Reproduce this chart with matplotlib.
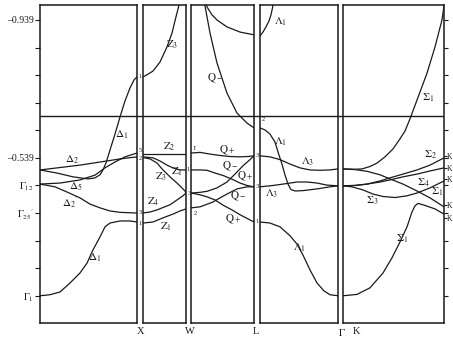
import matplotlib.pyplot as plt

plt.rcParams['font.family'] = ['Liberation Serif', 'DejaVu Serif']
plt.rcParams['mathtext.fontset'] = 'stix'

ink = '#1a1a1a'

# energy axis (values as printed, growing downward), k = fraction of each panel
e_fermi = -0.661
tick_E = [-0.939, -0.859, -0.779, -0.699, -0.619, -0.539, -0.459, -0.379, -0.299, -0.219, -0.139]
tick_labels = ['\u20130.939', '', '', '', '', '\u20130.539',
               r'$\Gamma_{12}$', r"$\Gamma_{25}{}'$", '', '', r'$\Gamma_1$']
k_end_E = [-0.545, -0.510, -0.478, -0.402, -0.365]

# ---- Gamma - X (Delta)
gx_d1a_k = [0, .103, .206, .309, .412, .485, .546, .619, .670, .722, .825, .928, 1]
gx_d1a_E = [-0.139, -0.142, -0.150, -0.176, -0.205, -0.234, -0.272, -0.310, -0.339, -0.350, -0.356, -0.356, -0.353]
gx_d2_k = [0, .206, .412, .619, .825, 1]
gx_d2_E = [-0.504, -0.511, -0.518, -0.527, -0.536, -0.542]
gx_d1b_k = [0, .175, .340, .495, .567, .619, .649, .680, .722, .773, .825, .876, .928, .969, 1]
gx_d1b_E = [-0.504, -0.495, -0.484, -0.478, -0.481, -0.490, -0.504, -0.524, -0.562, -0.608, -0.658, -0.704, -0.742, -0.765, -0.774]
gx_d5_k = [0, .206, .412, .567, .670, .773, .876, 1]
gx_d5_E = [-0.463, -0.466, -0.475, -0.489, -0.510, -0.527, -0.542, -0.553]
gx_d2p_k = [0, .155, .278, .412, .515, .619, .722, .825, 1]
gx_d2p_E = [-0.463, -0.455, -0.440, -0.423, -0.405, -0.394, -0.385, -0.381, -0.379]

# ---- X - W (Z)
xw_z3a_k = [0, .093, .233, .395, .558, .674, .767, .826, .860]
xw_z3a_E = [-0.774, -0.780, -0.791, -0.817, -0.861, -0.901, -0.948, -0.977, -0.994]
xw_z2_k = [0, .5, 1]
xw_z2_E = [-0.550, -0.550, -0.550]
xw_z1a_k = [0, .233, .395, .558, .698, .860, 1]
xw_z1a_E = [-0.542, -0.539, -0.530, -0.518, -0.510, -0.504, -0.504]
xw_z3b_k = [0, .163, .326, .465, .628, .791, .977, 1]
xw_z3b_E = [-0.540, -0.536, -0.524, -0.504, -0.484, -0.466, -0.443, -0.437]
xw_z4_k = [0, .163, .326, .465, .628, .791, .930, 1]
xw_z4_E = [-0.379, -0.382, -0.388, -0.395, -0.403, -0.417, -0.429, -0.437]
xw_z1b_k = [0, .233, .465, .698, .860, 1]
xw_z1b_E = [-0.350, -0.353, -0.365, -0.376, -0.385, -0.391]

# ---- W - L (Q)
wl_qa_k = [.203, .222, .302, .413, .571, .730, .889, 1]
wl_qa_E = [-0.997, -0.980, -0.901, -0.814, -0.727, -0.669, -0.640, -0.626]
wl_arc_k = [.230, .254, .333, .413, .571, .778, 1]
wl_arc_E = [-0.997, -0.977, -0.954, -0.939, -0.919, -0.904, -0.896]
wl_qp1_k = [0, .143, .302, .460, .619, .778, .905, 1]
wl_qp1_E = [-0.553, -0.555, -0.550, -0.546, -0.543, -0.542, -0.543, -0.545]
wl_qm1_k = [0, .143, .254, .381, .508, .667, .778, .889, 1]
wl_qm1_E = [-0.504, -0.504, -0.503, -0.495, -0.488, -0.476, -0.466, -0.459, -0.455]
wl_qp2_k = [0, .143, .254, .413, .571, .698, .825, .937, 1]
wl_qp2_E = [-0.437, -0.439, -0.442, -0.452, -0.469, -0.492, -0.516, -0.534, -0.545]
wl_qp3_k = [0, .143, .254, .381, .508, .651, .778, .905, 1]
wl_qp3_E = [-0.437, -0.432, -0.426, -0.417, -0.402, -0.388, -0.374, -0.362, -0.353]
wl_qm2_k = [0, .143, .349, .460, .571, .730, .889, 1]
wl_qm2_E = [-0.394, -0.397, -0.411, -0.423, -0.434, -0.449, -0.455, -0.455]

# ---- L - Gamma (Lambda)
lg_l1t_k = [0, .038, .077, .115, .141, .160, .173]
lg_l1t_E = [-0.893, -0.904, -0.919, -0.936, -0.954, -0.974, -0.997]
lg_l1a_k = [0, .064, .128, .192, .231, .282, .321, .359, .397, .449, .551, .731, .897, 1]
lg_l1a_E = [-0.626, -0.620, -0.608, -0.585, -0.556, -0.521, -0.489, -0.463, -0.447, -0.443, -0.444, -0.449, -0.455, -0.458]
lg_l3a_k = [0, .128, .256, .385, .513, .641, .769, .897, 1]
lg_l3a_E = [-0.545, -0.542, -0.534, -0.521, -0.510, -0.504, -0.503, -0.504, -0.507]
lg_l3b_k = [0, .167, .295, .474, .603, .731, .859, 1]
lg_l3b_E = [-0.455, -0.459, -0.463, -0.469, -0.469, -0.466, -0.460, -0.458]
lg_l1b_k = [0, .128, .256, .385, .474, .551, .641, .731, .821, .897, 1]
lg_l1b_E = [-0.353, -0.350, -0.339, -0.313, -0.289, -0.257, -0.214, -0.176, -0.153, -0.142, -0.139]

# ---- Gamma - K (Sigma)
gk_s1a_k = [0, .139, .267, .396, .485, .564, .634, .683, .713, .743, .812, .911, 1]
gk_s1a_E = [-0.139, -0.143, -0.162, -0.205, -0.249, -0.295, -0.339, -0.382, -0.400, -0.407, -0.401, -0.391, -0.376]
gk_s1b_k = [0, .119, .238, .366, .465, .594, .733, .861, 1]
gk_s1b_E = [-0.507, -0.505, -0.500, -0.490, -0.478, -0.463, -0.443, -0.423, -0.397]
gk_s1c_k = [0, .119, .188, .267, .337, .416, .495, .564, .614, .663, .733, .832, .911, .980, 1]
gk_s1c_E = [-0.507, -0.506, -0.507, -0.514, -0.524, -0.542, -0.565, -0.594, -0.617, -0.652, -0.707, -0.785, -0.861, -0.939, -0.980]
gk_s2_k = [0, .119, .238, .366, .465, .594, .733, .861, 1]
gk_s2_E = [-0.458, -0.459, -0.463, -0.472, -0.481, -0.492, -0.504, -0.518, -0.539]
gk_s4_k = [0, .119, .238, .366, .465, .594, .733, .861, 1]
gk_s4_E = [-0.458, -0.459, -0.463, -0.469, -0.475, -0.484, -0.492, -0.501, -0.510]
gk_s3_k = [0, .089, .198, .297, .396, .515, .634, .733, .861, 1]
gk_s3_E = [-0.458, -0.455, -0.446, -0.434, -0.427, -0.424, -0.429, -0.437, -0.452, -0.472]

bands = [
    [(gx_d1a_k, gx_d1a_E), (gx_d2_k, gx_d2_E), (gx_d1b_k, gx_d1b_E), (gx_d5_k, gx_d5_E), (gx_d2p_k, gx_d2p_E)],
    [(xw_z3a_k, xw_z3a_E), (xw_z2_k, xw_z2_E), (xw_z1a_k, xw_z1a_E), (xw_z3b_k, xw_z3b_E),
     (xw_z4_k, xw_z4_E), (xw_z1b_k, xw_z1b_E)],
    [(wl_qa_k, wl_qa_E), (wl_arc_k, wl_arc_E), (wl_qp1_k, wl_qp1_E), (wl_qm1_k, wl_qm1_E),
     (wl_qp2_k, wl_qp2_E), (wl_qp3_k, wl_qp3_E), (wl_qm2_k, wl_qm2_E)],
    [(lg_l1t_k, lg_l1t_E), (lg_l1a_k, lg_l1a_E), (lg_l3a_k, lg_l3a_E), (lg_l3b_k, lg_l3b_E), (lg_l1b_k, lg_l1b_E)],
    [(gk_s1a_k, gk_s1a_E), (gk_s1b_k, gk_s1b_E), (gk_s1c_k, gk_s1c_E), (gk_s2_k, gk_s2_E),
     (gk_s4_k, gk_s4_E), (gk_s3_k, gk_s3_E)],
]

# band names: (panel, k, E, text)
band_names = [
    (0, .845, -0.606, r'$\Delta_1$'), (0, .33, -0.533, r'$\Delta_2$'), (0, .371, -0.455, r'$\Delta_5$'),
    (0, .309, -0.408, r"$\Delta_2{}'$"), (0, .565, -0.249, r'$\Delta_1$'),
    (1, .674, -0.867, r'$\mathrm{Z}_3$'), (1, .605, -0.571, r'$\mathrm{Z}_2$'), (1, .419, -0.484, r'$\mathrm{Z}_3$'),
    (1, .79, -0.498, r'$\mathrm{Z}_1$'), (1, .233, -0.411, r'$\mathrm{Z}_4$'), (1, .535, -0.339, r'$\mathrm{Z}_1$'),
    (2, .381, -0.771, r'$\mathrm{Q}_-$'), (2, .571, -0.562, r'$\mathrm{Q}_+$'), (2, .619, -0.513, r'$\mathrm{Q}_-$'),
    (2, .857, -0.484, r'$\mathrm{Q}_+$'), (2, .746, -0.426, r'$\mathrm{Q}_-$'), (2, .667, -0.362, r'$\mathrm{Q}_+$'),
    (3, .269, -0.933, r'$\Lambda_1$'), (3, .269, -0.585, r'$\Lambda_1$'), (3, .615, -0.527, r'$\Lambda_3$'),
    (3, .154, -0.434, r'$\Lambda_3$'), (3, .513, -0.278, r'$\Lambda_1$'),
    (4, .842, -0.713, r'$\Sigma_1$'), (4, .861, -0.547, r'$\Sigma_2$'), (4, .792, -0.466, r'$\Sigma_4$'),
    (4, .931, -0.440, r'$\Sigma_1$'), (4, .287, -0.414, r'$\Sigma_3$'), (4, .584, -0.304, r'$\Sigma_1$'),
]

# small symmetry labels at the zone points: (panel, k, E, text)
point_names = [
    (0, 1.03, -0.774, '1'), (0, 1.03, -0.559, '5'), (0, 1.03, -0.536, '2'), (0, 1.03, -0.382, '3'), (0, 1.03, -0.350, '1'),
    (2, .063, -0.566, "1'"), (2, -.048, -0.504, '1'), (2, -.032, -0.437, '3'), (2, .079, -0.377, "2'"),
    (3, .05, -0.649, "2'"), (3, -.038, -0.545, '3'), (3, -.038, -0.455, '3'), (3, -.038, -0.353, '1'),
]

W, H = 453, 340
panel_px = [(40, 137), (143, 186), (191, 254), (260, 338), (343, 444)]
top_px, bot_px = 5, 323
ylim = (-0.060, -0.9825)

fig = plt.figure(figsize=(W / 100, H / 100), dpi=100)

bg = fig.add_axes([40 / W, 1 - bot_px / H, (444 - 40) / W, (bot_px - top_px) / H])
bg.set_xlim(0, 1)
bg.set_ylim(*ylim)
bg.axis('off')
bg.axhline(e_fermi, color=ink, lw=1.0)

axes = []
for i, (x0, x1) in enumerate(panel_px):
    ax = fig.add_axes([x0 / W, 1 - bot_px / H, (x1 - x0) / W, (bot_px - top_px) / H])
    ax.set_facecolor('none')
    ax.set_xlim(0, 1)
    ax.set_ylim(*ylim)
    ax.set_xticks([])
    ax.set_yticks([])
    for s in ax.spines.values():
        s.set_linewidth(1.1)
        s.set_color(ink)
    for k, E in bands[i]:
        ax.plot(k, E, color=ink, lw=0.9)
    axes.append(ax)

for p, k, E, txt in band_names:
    axes[p].text(k, E, txt, ha='center', va='center', fontsize=8, color=ink)

for p, k, E, txt in point_names:
    axes[p].text(k, E, txt, ha='center', va='center', fontsize=4.5, color=ink, clip_on=False)

ax1 = axes[0]
ax1.set_yticks(tick_E, tick_labels)
ax1.tick_params(axis='y', direction='out', length=3.5, width=0.8, labelsize=7, pad=1, colors=ink)

ax5 = axes[4]
ax5.yaxis.tick_right()
ax5.set_yticks(tick_E, minor=True)
ax5.set_yticks(k_end_E, ['K'] * len(k_end_E))
ax5.tick_params(axis='y', which='minor', direction='out', length=3, width=0.8, colors=ink)
ax5.tick_params(axis='y', which='major', direction='out', length=2, width=0.8,
                labelsize=5.5, pad=0.3, colors=ink)

for name, xp in [('X', 141), ('W', 190), ('L', 256), (r'$\Gamma$', 342), ('K', 356)]:
    fig.text(xp / W, 1 - 332 / H, name, ha='center', va='center', fontsize=7.5, color=ink)

fig.savefig('out.png', dpi=100)
